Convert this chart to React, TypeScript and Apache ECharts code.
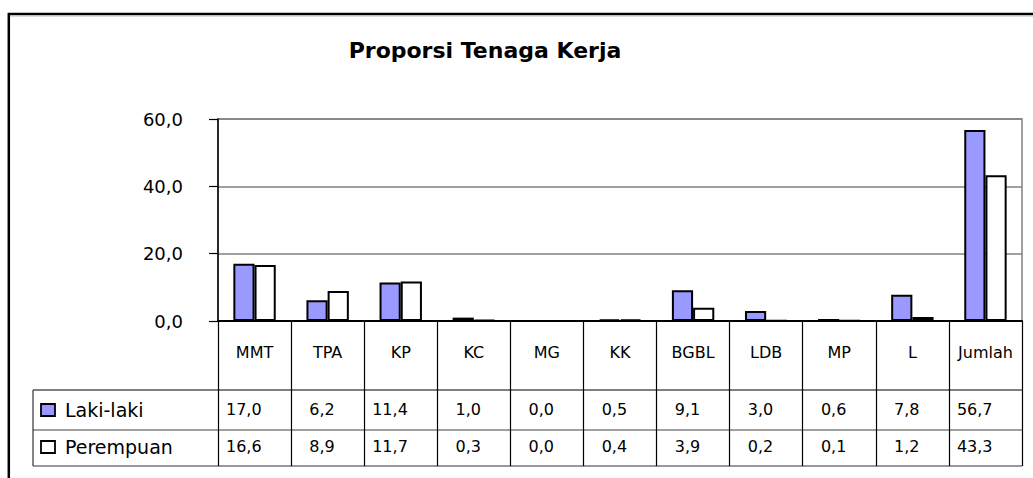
import React, { useEffect, useRef } from "react";
import * as echarts from "echarts";

const categories = ["MMT", "TPA", "KP", "KC", "MG", "KK", "BGBL", "LDB", "MP", "L", "Jumlah"];
const lakiLaki = [17.0, 6.2, 11.4, 1.0, 0.0, 0.5, 9.1, 3.0, 0.6, 7.8, 56.7];
const perempuan = [16.6, 8.9, 11.7, 0.3, 0.0, 0.4, 3.9, 0.2, 0.1, 1.2, 43.3];
const seriesNames = ["Laki-laki", "Perempuan"];
const seriesColors = ["#9999ff", "#ffffff"];
const yMin = 0;
const yMax = 60;
const yInterval = 20;
const titleText = "Proporsi Tenaga Kerja";

const FONT = "DejaVu Sans";
const fmt = (v: number) => v.toFixed(1).replace(".", ",");
const fmtPadded = (v: number) => (v < 10 ? "\u2007" : "") + fmt(v);

export default function App() {
  const ref = useRef<HTMLDivElement>(null);
  useEffect(() => {
    document.body.style.margin = "0";
    if (!ref.current) return;
    const chart = echarts.init(ref.current, null, { renderer: "svg" });
    const gridLeft = 218;
    const gridRight = 1022;
    const gridTop = 119;
    const gridBottom = 321;
    const tableLeft = 33;
    const row1Top = 390;
    const row2Top = 430;
    const tableBottom = 466;

    chart.setOption({
      animation: false,
      backgroundColor: "#ffffff",
      textStyle: { fontFamily: FONT },
      title: {
        text: titleText,
        left: 480,
        top: 34,
        textAlign: "center",
        textStyle: { fontFamily: FONT, fontSize: 22, fontWeight: "bold", color: "#000" },
      },
      grid: {
        left: gridLeft,
        top: gridTop,
        width: gridRight - gridLeft,
        height: gridBottom - gridTop,
        show: true,
        borderColor: "#808080",
        borderWidth: 1.5,
        backgroundColor: "transparent",
      },
      xAxis: {
        type: "category",
        data: categories,
        axisLine: { show: true, lineStyle: { color: "#000", width: 2 } },
        axisTick: {
          show: true,
          interval: 0,
          length: tableBottom - gridBottom,
          lineStyle: { color: "#000", width: 1.2 },
        },
        axisLabel: {
          interval: 0,
          margin: 23,
          fontFamily: FONT,
          fontSize: 16,
          color: "#000",
        },
        splitLine: { show: false },
      },
      yAxis: {
        type: "value",
        min: yMin,
        max: yMax,
        interval: yInterval,
        axisLine: { show: true, lineStyle: { color: "#000", width: 1.5 } },
        axisTick: { show: true, length: 9, lineStyle: { color: "#000", width: 1.2 } },
        axisLabel: {
          margin: 35,
          fontFamily: FONT,
          fontSize: 18,
          color: "#000",
          formatter: (v: number) => fmt(v),
        },
        splitLine: { show: true, lineStyle: { color: "#808080", width: 1.5 } },
      },
      series: [
        {
          name: seriesNames[0],
          type: "bar",
          data: lakiLaki,
          barGap: "0%",
          barCategoryGap: "42%",
          itemStyle: { color: seriesColors[0], borderColor: "#000", borderWidth: 2 },
        },
        {
          name: seriesNames[1],
          type: "bar",
          data: perempuan,
          barGap: "0%",
          barCategoryGap: "42%",
          itemStyle: { color: seriesColors[1], borderColor: "#000", borderWidth: 2 },
        },
      ],
    });

    const rows = [lakiLaki, perempuan];
    const rowCenters = [409, 446];
    const graphics: any[] = [];
    graphics.push({
      type: "line",
      shape: { x1: 8, y1: 14, x2: 1033, y2: 14 },
      style: { stroke: "#000", lineWidth: 2.5 },
    });
    graphics.push({
      type: "line",
      shape: { x1: 1033, y1: 16, x2: 8, y2: 16 },
      style: { stroke: "#bbb", lineWidth: 1 },
    });
    graphics.push({
      type: "line",
      shape: { x1: 8.8, y1: 13, x2: 8.8, y2: 478 },
      style: { stroke: "#000", lineWidth: 2.5 },
    });
    graphics.push({
      type: "line",
      shape: { x1: tableLeft, y1: row1Top, x2: gridRight, y2: row1Top },
      style: { stroke: "#000", lineWidth: 1.2 },
    });
    graphics.push({
      type: "line",
      shape: { x1: tableLeft, y1: row2Top, x2: gridRight, y2: row2Top },
      style: { stroke: "#808080", lineWidth: 1.5 },
    });
    graphics.push({
      type: "line",
      shape: { x1: tableLeft, y1: tableBottom, x2: gridRight, y2: tableBottom },
      style: { stroke: "#333", lineWidth: 1.2 },
    });
    graphics.push({
      type: "line",
      shape: { x1: tableLeft, y1: row1Top, x2: tableLeft, y2: tableBottom },
      style: { stroke: "#333", lineWidth: 1.2 },
    });
    seriesNames.forEach((name, r) => {
      graphics.push({
        type: "rect",
        shape: { x: 41, y: rowCenters[r] - 5, width: 14, height: 12 },
        style: { fill: seriesColors[r], stroke: "#000", lineWidth: 1.8 },
      });
      graphics.push({
        type: "text",
        x: 65,
        y: rowCenters[r] + 1,
        style: {
          text: name,
          font: `19px "${FONT}"`,
          fill: "#000",
          textAlign: "left",
          textVerticalAlign: "middle",
        },
      });
    });
    const halfBand = (gridRight - gridLeft) / categories.length / 2;
    rows.forEach((vals, r) => {
      vals.forEach((v, i) => {
        const cx = chart.convertToPixel({ xAxisIndex: 0 }, i) as number;
        graphics.push({
          type: "text",
          x: cx - halfBand + 8,
          y: rowCenters[r],
          style: {
            text: fmtPadded(v),
            font: `16px "${FONT}"`,
            fill: "#000",
            textAlign: "left",
            textVerticalAlign: "middle",
          },
        });
      });
    });
    chart.setOption({ graphic: graphics });

    return () => chart.dispose();
  }, []);
  return <div ref={ref} style={{ width: 1033, height: 478 }} />;
}
